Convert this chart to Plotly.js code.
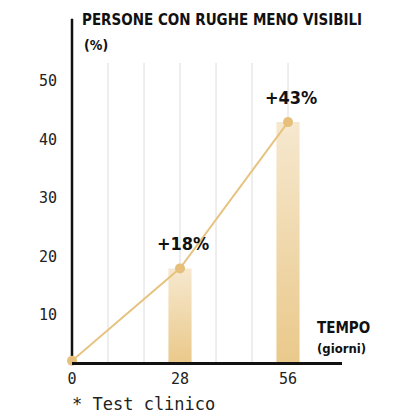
<!DOCTYPE html>
<html><head><meta charset="utf-8">
<script src="https://cdn.plot.ly/plotly-3.0.1.min.js"></script>
<style>html,body{margin:0;padding:0;background:#fff}#c{width:416px;height:416px}
svg text { font-stretch: condensed !important; }
</style>
</head><body><div id="c"></div>
<script>
const days = [0, 28, 56];
const percent = [2.2, 18, 43];
const labels = ['', '+18%', '+43%'];
const barDays = [28, 56];
const barValues = [18, 43];
const xTicks = [0, 28, 56];
const yTicks = [10, 20, 30, 40, 50];

const condensed = '"DejaVu Sans Condensed", "DejaVu Sans", sans-serif';
const mono = '"DejaVu Sans Mono", monospace';
const base = 2.0;
const halfW = 3;

const traces = [];
barDays.forEach((d, i) => {
  traces.push({
    type: 'scatter', mode: 'none',
    x: [d - halfW, d + halfW, d + halfW, d - halfW, d - halfW],
    y: [base, base, barValues[i], barValues[i], base],
    fill: 'toself',
    fillgradient: {type: 'vertical', colorscale: [[0, '#eac98b'], [1, '#f6e8cf']]},
    hoverinfo: 'skip', showlegend: false
  });
});
traces.push({
  type: 'scatter', mode: 'lines+markers',
  x: days, y: percent,
  line: {color: '#e7c381', width: 2},
  marker: {color: '#e6c07a', size: 10},
  cliponaxis: false, showlegend: false
});

const shapes = [];
for (let i = 1; i <= 6; i++) {
  const gx = i * 28 / 3;
  shapes.push({type: 'line', layer: 'below', xref: 'x', yref: 'paper', x0: gx, x1: gx, y0: 0, y1: 1,
    line: {color: '#dcdcdc', width: 1}});
}
shapes.push({type: 'line', layer: 'below', xref: 'paper', yref: 'paper', x0: 0, x1: 0, y0: 0, y1: 1.148,
  line: {color: '#111', width: 2.5}});

const annotations = [];
days.forEach((d, i) => {
  if (labels[i]) annotations.push({x: d, y: percent[i], xref: 'x', yref: 'y', text: labels[i], showarrow: false,
    yshift: 25, xshift: 3, font: {family: condensed, size: 18, color: '#111', weight: 700}});
});
annotations.push({xref: 'paper', yref: 'paper', x: (82 - 72) / 270, xanchor: 'left', y: (362 - 45) / 299, yanchor: 'middle',
  text: '(%)', showarrow: false, font: {family: condensed, size: 14, color: '#111', weight: 700}});
annotations.push({xref: 'paper', yref: 'paper', x: (315 - 72) / 270, xanchor: 'left', y: (362 - 328) / 299, yanchor: 'middle',
  text: 'TEMPO', showarrow: false, font: {family: condensed, size: 15, color: '#111', weight: 700}});
annotations.push({xref: 'paper', yref: 'paper', x: (315 - 72) / 270, xanchor: 'left', y: (362 - 348) / 299, yanchor: 'middle',
  text: '(giorni)', showarrow: false, font: {family: condensed, size: 13, color: '#111', weight: 700}});
annotations.push({xref: 'paper', yref: 'paper', x: (70 - 72) / 270, xanchor: 'left', y: -(404 - 362) / 299, yanchor: 'middle',
  text: '* Test clinico', showarrow: false, font: {family: mono, size: 17, color: '#222'}});

const layout = {
  width: 416, height: 416,
  margin: {l: 72, r: 74, t: 63, b: 54, pad: 0},
  paper_bgcolor: '#fff', plot_bgcolor: '#fff',
  title: {text: 'PERSONE CON RUGHE MENO VISIBILI', x: 82 / 416, xanchor: 'left', xref: 'container',
    y: 1 - 20 / 416, yanchor: 'middle', yref: 'container',
    font: {family: condensed, size: 15, color: '#111', weight: 700}},
  xaxis: {range: [0, 70], tickvals: xTicks, ticktext: xTicks.map(String), showgrid: false, zeroline: false,
    showline: true, linecolor: '#111', linewidth: 2.5, ticks: '', ticklabelstandoff: 1,
    tickfont: {family: mono, size: 15, color: '#222'}},
  yaxis: {range: [base, 53.1], tickvals: yTicks, ticktext: yTicks.map(String), showgrid: false, zeroline: false,
    showline: false, ticks: '', ticklabelstandoff: 14,
    tickfont: {family: mono, size: 15, color: '#222'}},
  shapes: shapes, annotations: annotations, showlegend: false
};
Plotly.newPlot('c', traces, layout, {staticPlot: true});
</script></body></html>
